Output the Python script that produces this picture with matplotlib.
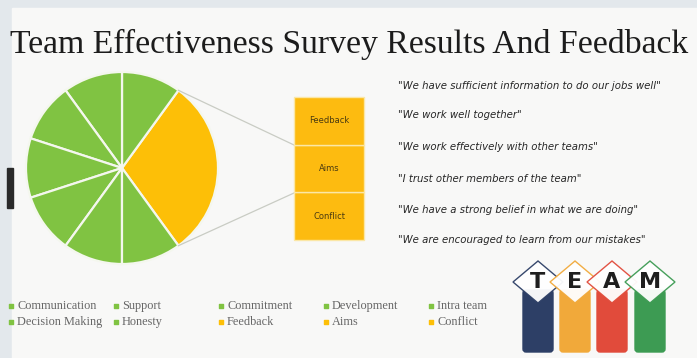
# Team effectiveness survey - pie with a breakout bar, quotes and legend
import numpy as np
import matplotlib.pyplot as plt
from matplotlib.patches import Rectangle, Polygon, FancyBboxPatch

# survey categories (each one gets an equal share)
categories = ['Communication', 'Decision Making', 'Support', 'Honesty',
              'Commitment', 'Feedback', 'Development', 'Aims',
              'Intra team', 'Conflict']
shares = [10, 10, 10, 10, 10, 10, 10, 10, 10, 10]
breakout = ['Feedback', 'Aims', 'Conflict']   # pulled out into the bar

quotes = ['"We have sufficient information to do our jobs well"',
          '"We work well together"',
          '"We work effectively with other teams"',
          '"I trust other members of the team"',
          '"We have a strong belief in what we are doing"',
          '"We are encouraged to learn from our mistakes"']

team_letters = ['T', 'E', 'A', 'M']
team_colors = ['#2d3f66', '#f1a93a', '#e14b3b', '#3d9b53']

GREEN = '#80c342'
ORANGE = '#fdbf07'
BAR = '#fdbb10'

W, H = 697, 358
fig = plt.figure(figsize=(W / 100, H / 100), dpi=100)
ax = fig.add_axes([0, 0, 1, 1])

def yy(y):
    # image rows -> data y
    return H - y

# background frame
ax.add_patch(Rectangle((0, 0), W, H, color='#e3e8ec', zorder=0))
ax.add_patch(Rectangle((12, 0), W - 12, yy(8), color='#f8f8f7', zorder=0))
ax.add_patch(Rectangle((7, yy(208)), 6, 40, color='#2a2a2a', zorder=1))

# pie: green slices + one merged orange slice
green_vals = [v for c, v in zip(categories, shares) if c not in breakout]
orange_vals = [v for c, v in zip(categories, shares) if c in breakout]
pie_vals = [sum(orange_vals)] + green_vals
pie_cols = [ORANGE] + [GREEN] * len(green_vals)
orange_angle = 360 * sum(orange_vals) / sum(pie_vals)
cx, cy, r = 122, yy(168), 96
ax.pie(pie_vals, colors=pie_cols, startangle=-orange_angle / 2,
       center=(cx, cy), radius=r, counterclock=True,
       wedgeprops=dict(edgecolor='#f4f7ee', linewidth=1.6))

# stacked breakout bar
bx, bw = 294, 70
bar_bottom = yy(240)
scale = (240 - 97) / sum(orange_vals)
acc = bar_bottom
for name, v in zip(breakout[::-1], orange_vals[::-1]):
    ax.bar(bx + bw / 2, v * scale, width=bw, bottom=acc, color=BAR,
           edgecolor='#fbe7a6', linewidth=1.0, zorder=3)
    ax.text(bx + bw / 2, acc + v * scale / 2, name, ha='center', va='center',
            fontsize=6, color='#4a3b10', family='DejaVu Sans', zorder=4)
    acc += v * scale

# connector lines from pie edge to bar
a = np.deg2rad(orange_angle / 2)
px, py_top, py_bot = cx + r * np.cos(a), cy + r * np.sin(a), cy - r * np.sin(a)
ax.plot([px, bx], [py_top, yy(145)], color='#c9ccc4', lw=0.9, zorder=2)
ax.plot([px, bx], [py_bot, yy(193)], color='#c9ccc4', lw=0.9, zorder=2)

# title
ax.text(10, yy(44), 'Team Effectiveness Survey Results And Feedback',
        fontsize=24.3, family='Liberation Serif', color='#1c1c1c',
        ha='left', va='center')

# quotes
quote_y = [86, 115, 147, 179, 210, 240]
for q, y in zip(quotes, quote_y):
    ax.text(398, yy(y), q, fontsize=7.3, family='DejaVu Sans', style='italic',
            color='#262626', ha='left', va='center')

# legend, two rows x five columns
for i, c in enumerate(categories):
    col, row = i // 2, i % 2
    x = 11 + col * 105
    y = yy(306 + row * 16)
    ax.scatter([x], [y], s=5, marker='s',
               color=ORANGE if c in breakout else GREEN, zorder=3)
    ax.text(x + 6, y, c, fontsize=8.8, family='Liberation Serif',
            color='#666666', ha='left', va='center')

# TEAM badge
centers = [538, 575, 612, 650]
for ch, col, x in zip(team_letters, team_colors, centers):
    ax.add_patch(FancyBboxPatch((x - 15, yy(352)), 30, 62,
                                boxstyle='round,pad=0,rounding_size=3',
                                color=col, zorder=5))
for ch, col, x in zip(team_letters, team_colors, centers):
    dy = 21
    ax.add_patch(Polygon([(x - 25, yy(282)), (x, yy(282) + dy),
                          (x + 25, yy(282)), (x, yy(282) - dy)],
                         closed=True, facecolor='white', edgecolor=col,
                         lw=1.0, alpha=0.95, zorder=6))
for ch, x in zip(team_letters, centers):
    ax.text(x, yy(282), ch, fontsize=16, fontweight='bold',
            family='DejaVu Sans', color='#1e1e1e', ha='center', va='center',
            zorder=7)

ax.set_xlim(0, W)
ax.set_ylim(0, H)
ax.set_aspect('auto')
ax.axis('off')

plt.savefig('out.png', dpi=100)
